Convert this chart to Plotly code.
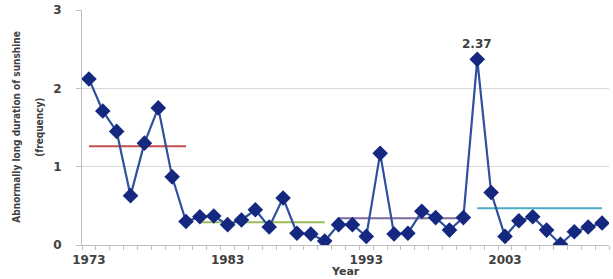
import plotly.graph_objects as go

years = list(range(1973, 2011))
freq = [2.12, 1.71, 1.45, 0.63, 1.30, 1.75, 0.87, 0.30,
        0.36, 0.37, 0.26, 0.32, 0.45, 0.23, 0.60, 0.15, 0.14, 0.05,
        0.26, 0.26, 0.11, 1.17, 0.14, 0.15, 0.43, 0.35, 0.19, 0.35,
        2.37, 0.67, 0.11, 0.31, 0.36, 0.19, 0.01, 0.17, 0.23, 0.28]

period_start = [1973, 1981, 1991, 2001]
period_end = [1980, 1990, 2000, 2010]
period_mean = [1.26, 0.29, 0.34, 0.47]
period_color = ["#c0504d", "#9bbb59", "#7f6a9e", "#4bacc6"]

tick_years = [1973, 1983, 1993, 2003]
peak_label = "2.37"

FONT = "DejaVu Sans"
TXT = "#404040"

fig = go.Figure()

for s, e, m, c in zip(period_start, period_end, period_mean, period_color):
    fig.add_trace(go.Scatter(x=[s, e], y=[m, m], mode="lines",
                             line=dict(color=c, width=2), hoverinfo="skip",
                             showlegend=False))

fig.add_trace(go.Scatter(
    x=years, y=freq, mode="lines+markers",
    line=dict(color="#2f4f9f", width=2.2),
    marker=dict(symbol="diamond", size=12, color="#14287f",
                line=dict(width=0)),
    showlegend=False))

peak_i = freq.index(max(freq))
fig.add_annotation(x=years[peak_i], y=freq[peak_i], text=peak_label,
                   showarrow=False, yshift=15,
                   font=dict(family=FONT, size=12, color=TXT, weight="bold"))

fig.add_annotation(xref="paper", yref="paper", x=-0.125, y=0.5,
                   text="Abnormally long duration of sunshine", textangle=-90,
                   showarrow=False, xanchor="center", yanchor="middle",
                   font=dict(family="DejaVu Sans Condensed", size=10, color=TXT, weight="bold"))
fig.add_annotation(xref="paper", yref="paper", x=-0.081, y=0.5,
                   text="(frequency)", textangle=-90,
                   showarrow=False, xanchor="center", yanchor="middle",
                   font=dict(family="DejaVu Sans Condensed", size=10, color=TXT, weight="bold"))
fig.add_annotation(xref="paper", yref="paper", x=0.5, y=-0.145,
                   text="Year", showarrow=False, xanchor="center", yanchor="bottom",
                   borderpad=0,
                   font=dict(family=FONT, size=11, color=TXT, weight="bold"))

fig.update_xaxes(range=[1972.5, 2010.5], tickvals=tick_years,
                 ticktext=[str(t) for t in tick_years], ticks="",
                 showgrid=False, zeroline=False,
                 showline=True, linecolor="#bfbfbf", linewidth=1,
                 tickfont=dict(family=FONT, size=12, color=TXT, weight="bold"),
                 ticklabelstandoff=4,
                 minor=dict(tick0=1972.5, dtick=1, ticks="outside", ticklen=4,
                            tickcolor="#bfbfbf", showgrid=False))
fig.update_yaxes(range=[0, 3], tickvals=[0, 1, 2, 3], ticks="outside", ticklen=5,
                 tickcolor="#bfbfbf", showgrid=True, gridcolor="#d9d9d9",
                 gridwidth=1, zeroline=False, showline=True,
                 linecolor="#bfbfbf", linewidth=1, ticklabelstandoff=12,
                 tickfont=dict(family=FONT, size=12, color=TXT, weight="bold"))

fig.update_layout(width=613, height=279, margin=dict(l=82, r=4, t=10, b=34),
                  paper_bgcolor="white", plot_bgcolor="white")

fig.write_html("out.html")
